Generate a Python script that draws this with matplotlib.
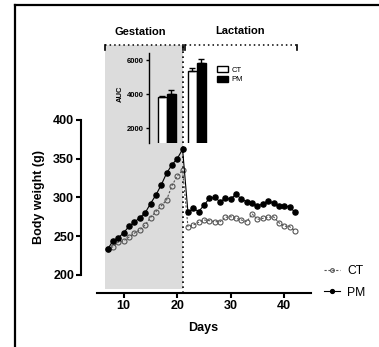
import matplotlib
matplotlib.use("Agg")
import matplotlib.pyplot as plt
from matplotlib.lines import Line2D

plt.rcParams['font.family'] = ['Liberation Sans', 'DejaVu Sans']

# ---------------- data ----------------
days = list(range(7, 43))
ct_weight = [233, 236.5, 242.5, 244, 249, 254, 258, 264.5, 274, 281.5, 289, 296.6, 315, 327.6, 335,
             262.3, 264.4, 267.9, 270.9, 270, 268.7, 268.7, 274.3, 275.1, 273, 270.9, 268.7, 278.6,
             271.7, 273, 274.3, 275, 267.4, 263, 262.3, 257]
pm_weight = [233.5, 244, 248, 254.5, 263, 268, 274, 280, 292, 303, 316, 331, 342, 350, 362,
             280.8, 286, 281.7, 290, 298.8, 300, 294.5, 298.8, 298, 304.4, 297.5, 294.5, 292.4,
             289, 291.5, 295.8, 292.4, 289, 289, 288, 280.8]
series_labels = ["CT", "PM"]
period_labels = ["Gestation", "Lactation"]
auc_ct = [3840, 5370]
auc_pm = [4000, 5800]
auc_ct_err = [30, 140]
auc_pm_err = [240, 260]
yticks_main = [200, 250, 300, 350, 400]
xticks_main = [10, 20, 30, 40]
yticks_auc = [2000, 4000, 6000]

W, H = 379, 347
fig = plt.figure(figsize=(W / 100, H / 100), dpi=100)

def fx(px):
    return px / W

def fy(py):
    return 1 - py / H

# frame
fig.add_artist(Line2D([fx(15), fx(379)], [fy(5), fy(5)], color='black', lw=1.6, transform=fig.transFigure))
fig.add_artist(Line2D([fx(15), fx(15)], [fy(5), fy(347)], color='black', lw=1.6, transform=fig.transFigure))

# ---------------- main axes ----------------
ax = fig.add_axes([fx(97), fy(293), (311 - 97) / W, (293 - 45) / H])
ax.set_xlim(5, 45)
ax.set_ylim(176.8, 496.4)

ax.axvspan(6.5, 21, ymin=(182 - 176.8) / (496.4 - 176.8), ymax=1, color='#dcdcdc', lw=0, zorder=0)
ax.axvline(21, ymin=0, ymax=1, color='black', lw=1.2, ls=(0, (1, 2)), zorder=1)

ax.plot(days, ct_weight, color='#555555', lw=0.8, ls=(0, (2, 1.5)), marker='o', ms=3.6,
        mfc='none', mec='#555555', mew=0.8, zorder=3, label=series_labels[0])
ax.plot(days, pm_weight, color='black', lw=0.8, marker='o', ms=3.7, mfc='black', mec='black',
        zorder=4, label=series_labels[1])

for s in ['top', 'right']:
    ax.spines[s].set_visible(False)
ax.spines['left'].set_position(('outward', 11.5))
ax.spines['left'].set_bounds(200, 400)
ax.spines['left'].set_linewidth(1.5)
ax.spines['bottom'].set_linewidth(1.5)
ax.set_yticks(yticks_main)
ax.set_xticks(xticks_main)
ax.tick_params(axis='both', width=1.5, length=3.5, labelsize=9, pad=1.5)
for lab in ax.get_xticklabels() + ax.get_yticklabels():
    lab.set_fontweight('bold')

fig.text(fx(39), fy(197), "Body weight (g)", rotation=90, ha='center', va='center',
         fontsize=9, fontweight='bold')
fig.text(fx(203), fy(328), "Days", ha='center', va='center', fontsize=9, fontweight='bold')

# brackets at top
ytop = 496.4
ax.plot([6.5, 21], [ytop, ytop], color='black', lw=1.1, ls=(0, (1, 2)), clip_on=False)
ax.plot([21.4, 42.4], [ytop, ytop], color='black', lw=1.1, ls=(0, (1, 2)), clip_on=False)
for xv in [6.5, 21, 21.4, 42.4]:
    ax.plot([xv, xv], [ytop, ytop - 6.5], color='black', lw=1.2, clip_on=False)
fig.text(fx(140), fy(32), period_labels[0], ha='center', va='center', fontsize=8, fontweight='bold')
fig.text(fx(240), fy(31), period_labels[1], ha='center', va='center', fontsize=8, fontweight='bold')

# legend
handles, labels = ax.get_legend_handles_labels()
leg = ax.legend(handles, labels, loc='upper left', bbox_to_anchor=(fx(324), fy(265)),
                bbox_transform=fig.transFigure, frameon=False, fontsize=8.7, markerscale=0.75,
                handlelength=1.3, handletextpad=0.6, labelspacing=0.8, borderpad=0, borderaxespad=0)

# ---------------- inset AUC ----------------
ins = fig.add_axes([fx(149), fy(143), (210 - 149) / W, (143 - 53) / H])
ins.set_xlim(-0.6, 1.45)
ins.set_ylim(1118, 6412)
bw = 0.3
xs = [0, 1]
ins.bar([x - bw / 2 for x in xs], auc_ct, width=bw, color='white', edgecolor='black', lw=1.0,
        label=series_labels[0], zorder=2)
ins.bar([x + bw / 2 for x in xs], auc_pm, width=bw, color='black', edgecolor='black', lw=1.0,
        label=series_labels[1], zorder=2)
ins.errorbar([x - bw / 2 for x in xs], auc_ct, yerr=[[0, 0], auc_ct_err], fmt='none', ecolor='black',
             elinewidth=1, capsize=2, capthick=1, zorder=3)
ins.errorbar([x + bw / 2 for x in xs], auc_pm, yerr=[[0, 0], auc_pm_err], fmt='none', ecolor='black',
             elinewidth=1, capsize=2, capthick=1, zorder=3)
ins.patch.set_alpha(0)
for s in ['top', 'right', 'bottom']:
    ins.spines[s].set_visible(False)
ins.spines['left'].set_linewidth(1.0)
ins.set_xticks([])
ins.set_yticks(yticks_auc)
ins.tick_params(axis='y', width=1, length=2.5, labelsize=5.5, pad=1)
for lab in ins.get_yticklabels():
    lab.set_fontweight('bold')
fig.text(fx(120), fy(94), "AUC", rotation=90, ha='center', va='center', fontsize=5.5, fontweight='bold')

ih, il = ins.get_legend_handles_labels()
fig.legend(ih, il, loc='upper left', bbox_to_anchor=(fx(217), fy(66)), frameon=False,
           fontsize=5.5, handlelength=1.4, handleheight=0.8, handletextpad=0.5, labelspacing=0.3,
           borderpad=0, borderaxespad=0)

fig.savefig("out.png", dpi=100)
